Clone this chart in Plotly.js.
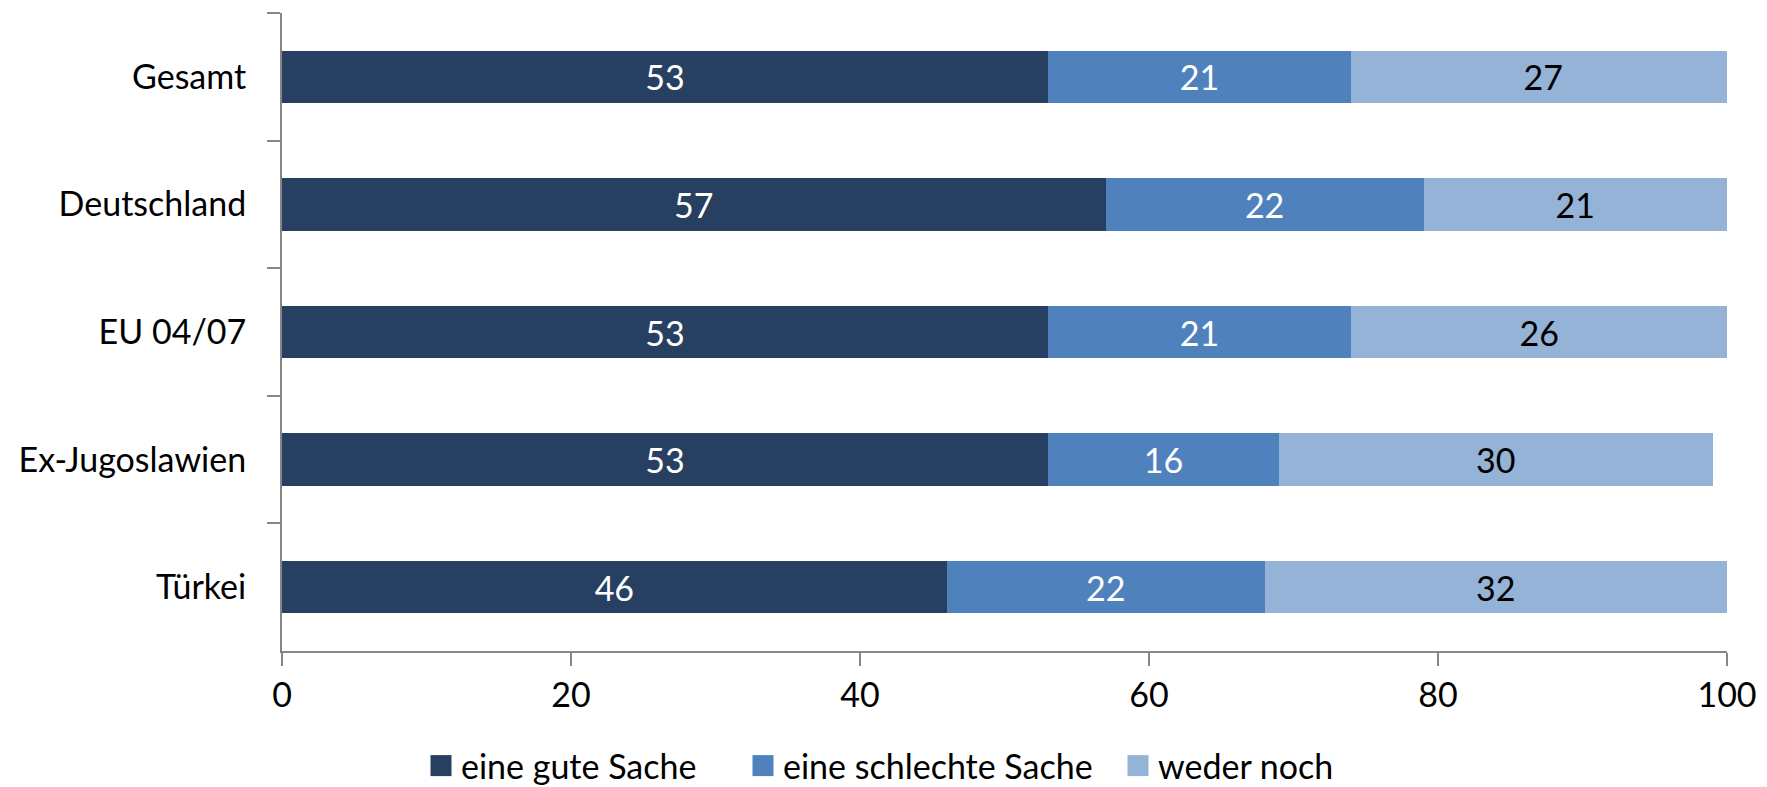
<!DOCTYPE html>
<html>
<head>
<meta charset="utf-8">
<script src="https://cdn.plot.ly/plotly-3.0.1.min.js"></script>
<style>
  html, body { margin: 0; padding: 0; background: #fff; }
  #chart { width: 1767px; height: 787px; }
</style>
</head>
<body>
<div id="chart"></div>
<script>
const categories = ["Gesamt", "Deutschland", "EU 04/07", "Ex-Jugoslawien", "Türkei"];
const seriesNames = ["eine gute Sache", "eine schlechte Sache", "weder noch"];
const guteSache = [53, 57, 53, 53, 46];
const schlechteSache = [21, 22, 21, 16, 22];
const wederNoch = [26.55, 21, 26, 30, 32];
const xTicks = [0, 20, 40, 60, 80, 100];

const FONT = "Lato, 'Open Sans', sans-serif";
const colors = ["#274062", "#4F81BD", "#95B3D7"];
const textColors = ["#ffffff", "#ffffff", "#000000"];
const seriesValues = [guteSache, schlechteSache, wederNoch];
const legendIds = ["legend", "legend2", "legend3"];
const legendX = [421, 743, 1118];

const traces = seriesValues.map((vals, i) => ({
  type: "bar",
  orientation: "h",
  name: seriesNames[i],
  legend: legendIds[i],
  y: categories,
  x: vals,
  marker: { color: colors[i], line: { width: 0 } },
  texttemplate: "%{x:.0f}",
  textposition: "inside",
  insidetextanchor: "middle",
  textangle: 0,
  constraintext: "none",
  textfont: { family: FONT, size: 34, color: textColors[i] },
  hoverinfo: "skip"
}));

const layout = {
  width: 1767,
  height: 787,
  margin: { l: 282, r: 40, t: 13, b: 136, autoexpand: false },
  paper_bgcolor: "#ffffff",
  plot_bgcolor: "#ffffff",
  barmode: "stack",
  bargap: 0.59,
  font: { family: FONT, size: 34, color: "#000000" },
  showlegend: true,
  xaxis: {
    range: [0, 100],
    tickvals: xTicks,
    ticktext: xTicks.map(String),
    showgrid: false,
    zeroline: false,
    showline: true,
    linecolor: "#868686",
    linewidth: 2,
    ticks: "outside",
    ticklen: 13,
    tickwidth: 2,
    tickcolor: "#868686",
    tickfont: { family: FONT, size: 34, color: "#000000" },
    fixedrange: true
  },
  yaxis: {
    type: "category",
    autorange: "reversed",
    showgrid: false,
    zeroline: false,
    showline: true,
    linecolor: "#868686",
    linewidth: 2,
    ticks: "outside",
    tickson: "boundaries",
    ticklen: 13,
    tickwidth: 2,
    tickcolor: "#868686",
    ticklabelstandoff: 27,
    tickfont: { family: FONT, size: 34, color: "#000000" },
    fixedrange: true
  }
};

legendIds.forEach((id, i) => {
  layout[id] = {
    orientation: "h",
    xref: "container",
    yref: "container",
    x: legendX[i] / 1767,
    xanchor: "left",
    y: 21 / 787,
    yanchor: "middle",
    bgcolor: "rgba(0,0,0,0)",
    font: { family: FONT, size: 34, color: "#000000" },
    itemwidth: 30
  };
});

function enlargeLegendSymbols() {
  document.querySelectorAll("#chart .legendpoints path").forEach(p => {
    p.setAttribute("d", "M10.5,10.5H-10.5V-10.5H10.5Z");
  });
}

Plotly.newPlot("chart", traces, layout, { displayModeBar: false, staticPlot: true })
  .then(enlargeLegendSymbols);
</script>
</body>
</html>
